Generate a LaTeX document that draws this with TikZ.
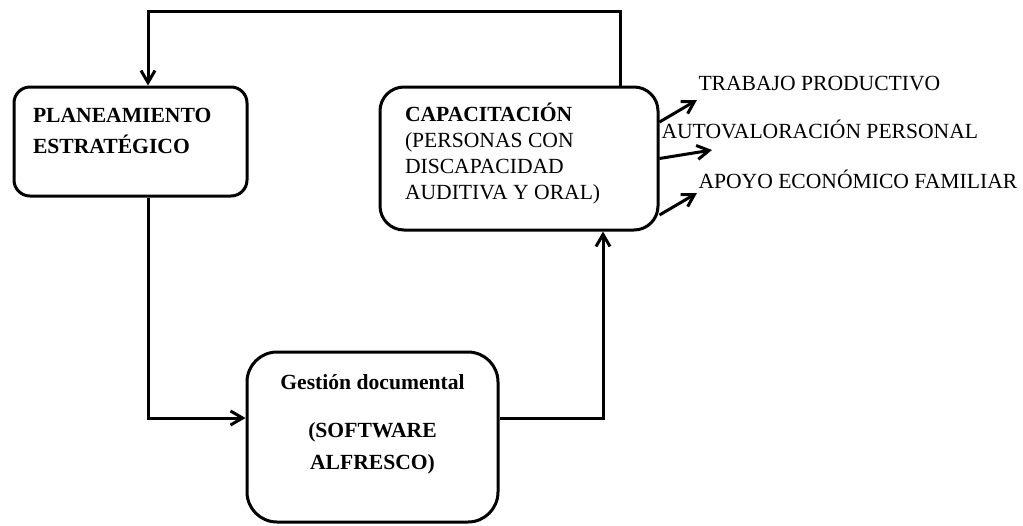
\documentclass[tikz,border=0pt]{standalone}
\usepackage{fontspec}
\setmainfont{Liberation Serif}
\usetikzlibrary{calc}
\usetikzlibrary{arrows.meta}

\begin{document}
\begin{tikzpicture}[x=.5pt, y=-.5pt, line width=1.5pt,
  caja/.style={draw, rounded corners=#1, inner sep=0pt}, caja/.default=8pt,
  texto/.style={inner sep=0pt, font=\fontsize{10.8}{13}\selectfont},
  flecha/.style={-{Straight Barb[length=6pt,width=7pt]}}]
\useasboundingbox (0,0) rectangle (1023,525);
\node[caja=8pt, minimum width=116.5pt, minimum height=54.5pt] (plan) at (130.5,141.5) {};
\node[caja=12pt, minimum width=139pt, minimum height=71.5pt] (cap) at (519,158.5) {};
\node[caja=15pt, minimum width=125.5pt, minimum height=85pt] (gest) at (372.5,437) {};
\node[texto, anchor=north west, align=left, font=\fontsize{10.8}{15.5}\selectfont\bfseries] (plantxt)
  at ($(plan.north west)+(19,21)$) {PLANEAMIENTO\\ESTRATÉGICO};
\node[texto, anchor=north west, align=left] (captxt) at ($(cap.north west)+(25,16)$)
  {\textbf{CAPACITACIÓN}\\(PERSONAS CON\\DISCAPACIDAD\\AUDITIVA Y ORAL)};
\node[texto, anchor=north, align=center, font=\fontsize{10.8}{13}\selectfont\bfseries] (gesttxt)
  at ($(gest.north)+(0,22)$) {Gestión documental\\[11pt](SOFTWARE\\[3pt]ALFRESCO)};
\node[texto, anchor=base west] (trab) at (697,90) {TRABAJO PRODUCTIVO};
\node[texto, anchor=base west] (auto) at (660,138) {AUTOVALORACIÓN PERSONAL};
\node[texto, anchor=base west] (apoyo) at (697,188) {APOYO ECONÓMICO FAMILIAR};
\coordinate (k1) at (148,418);
\coordinate (k2) at (603,418);
\coordinate (k3) at (620,11);
\coordinate (k4) at (148,11);
\coordinate (t1) at (697,100);
\coordinate (t2) at (712,150);
\coordinate (t3) at (697,193);
\draw[flecha] (plan.south -| k1) -- (k1) -- (k1 -| gest.west);
\draw[flecha] (k2 -| gest.east) -- (k2) -- (k2 |- cap.south);
\draw[flecha] (k3 |- cap.north) -- (k3) -- (k4) -- (k4 |- plan.north);
\draw[flecha] ($(cap.east)+(0,-36.5)$) -- (t1);
\draw[flecha] (cap.east) -- (t2);
\draw[flecha] ($(cap.east)+(0,56.5)$) -- (t3);
\end{tikzpicture}
\end{document}
